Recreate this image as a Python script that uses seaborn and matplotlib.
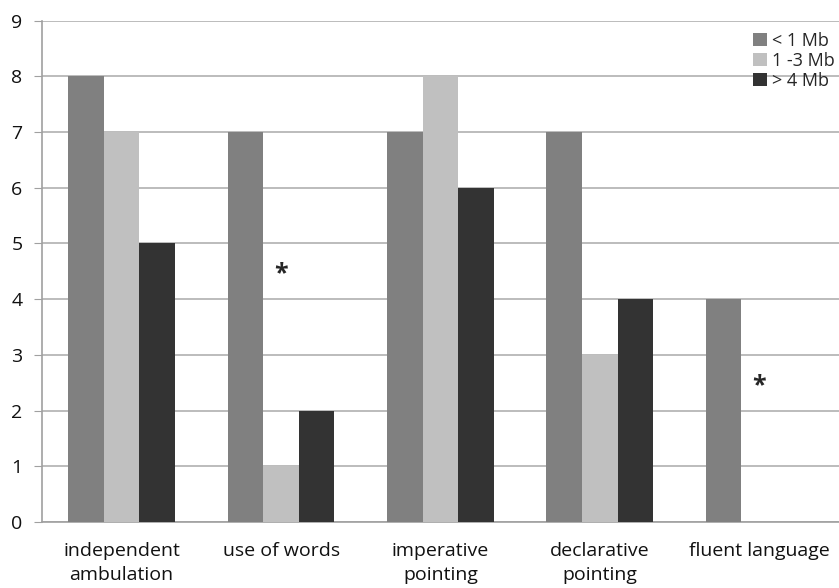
import matplotlib
matplotlib.use("Agg")
import matplotlib.pyplot as plt
import seaborn as sns
import pandas as pd

categories = ["independent\nambulation", "use of words", "imperative\npointing",
              "declarative\npointing", "fluent language"]
series = ["< 1 Mb", "1 -3 Mb", "> 4 Mb"]
small = [8, 7, 7, 7, 4]
medium = [7, 1, 8, 3, 0]
large = [5, 2, 6, 4, 0]
star_positions = [1, 4]
star_values = [4.45, 2.45]
colors = ["#808080", "#c0c0c0", "#333333"]

rows = []
for vals, s in zip([small, medium, large], series):
    for c, v in zip(categories, vals):
        rows.append({"cat": c, "series": s, "val": v})
df = pd.DataFrame(rows)

sns.set_style("white")
plt.rcParams['font.family'] = ['Open Sans', 'DejaVu Sans']

fig = plt.figure(figsize=(8.39, 5.88), dpi=100)
ax = fig.add_axes([0.05, 0.112, 0.95, 0.853])
sns.barplot(data=df, x="cat", y="val", hue="series", order=categories,
            hue_order=series, palette=colors, width=0.67, saturation=1,
            ax=ax, zorder=3, edgecolor="none")
ax.set_xlim(-0.5, 4.5)
ax.set_ylim(0, 9)
ax.set_yticks(range(0, 10))
ax.yaxis.grid(True, color="#b0b0b0", linewidth=1.2, zorder=0)
ax.set_axisbelow(True)
ax.set_xlabel("")
ax.set_ylabel("")
for sp in ["top", "right"]:
    ax.spines[sp].set_visible(False)
for sp in ["left", "bottom"]:
    ax.spines[sp].set_color("#a0a0a0")
    ax.spines[sp].set_linewidth(1.2)
ax.set_xticks([i - 0.5 for i in range(6)], minor=True)
ax.tick_params(axis="x", which="major", length=0, labelsize=14, pad=14,
               labelcolor="#111111")
ax.tick_params(axis="x", which="minor", length=6, color="#a0a0a0", direction="out")
ax.tick_params(axis="y", length=6, color="#a0a0a0", labelsize=14, left=True,
               direction="out", pad=8, labelcolor="#111111")
for lab in ax.get_xticklabels():
    lab.set_linespacing(1.45)
for x, y in zip(star_positions, star_values):
    ax.text(x, y, "*", ha="center", va="center", fontsize=18, fontweight="bold")
leg = ax.legend(loc="upper right", bbox_to_anchor=(1.015, 1.01), frameon=False,
                handlelength=0.75, handleheight=0.75, handletextpad=0.3,
                labelspacing=0.12, fontsize=13)
fig.savefig("out.png", dpi=100)
